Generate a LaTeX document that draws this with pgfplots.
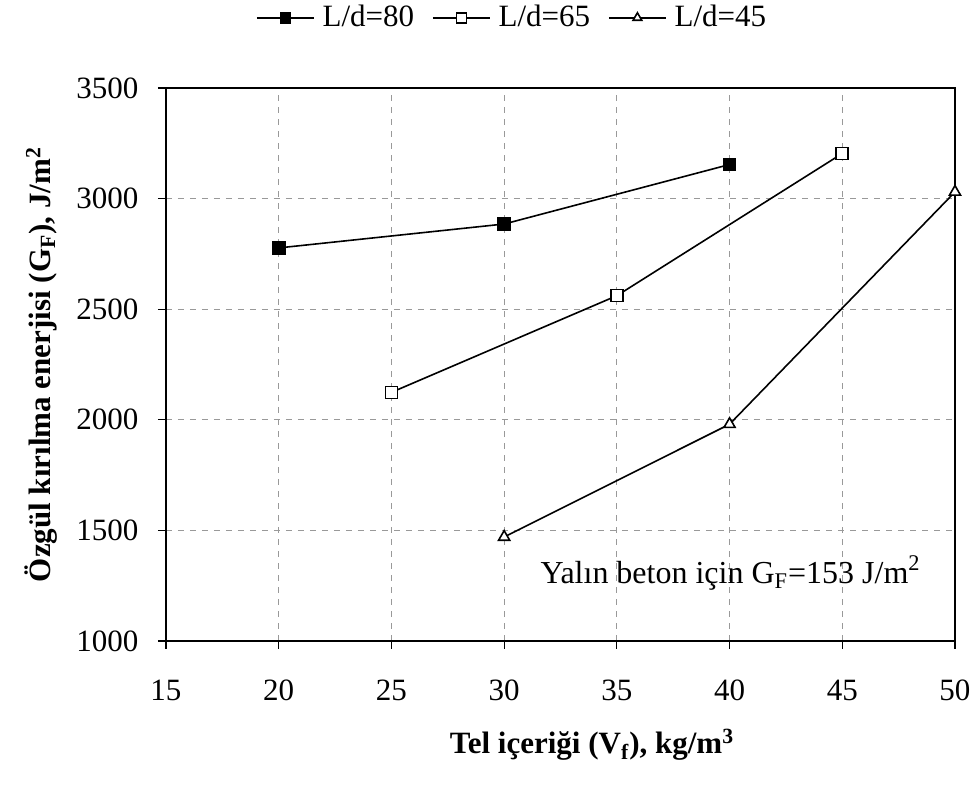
\documentclass[border=0pt]{standalone}
\usepackage{pgfplots}
\pgfplotsset{compat=1.18}
\usepackage{fontspec}
\setmainfont{Liberation Serif}
\begin{document}
\fontsize{15.5}{18}\selectfont
\begin{tikzpicture}
\useasboundingbox (-83pt,-72pt) rectangle (402.5pt,320.5pt);
\begin{axis}[
  scale only axis,
  width=394.5pt, height=276.5pt,
  xmin=15, xmax=50, ymin=1000, ymax=3500,
  xtick={15,20,...,50}, ytick={1000,1500,...,3500},
  clip mode=individual,
  /pgf/number format/assume math mode=true,
  /pgf/number format/1000 sep={},
  tick label style={font=\fontsize{15.5}{18}\selectfont},
  xticklabel style={yshift=-10pt},
  yticklabel style={xshift=-4.5pt},
  tick align=outside, tick pos=left,
  major tick length=4pt,
  axis line style={line width=0.8pt},
  every tick/.style={black, line width=0.6pt},
  grid=major,
  grid style={gray!80, dash pattern=on 3pt off 3pt, line width=0.6pt},
  xlabel={\textbf{Tel içeriği (V\textsubscript{f}), kg/m\textsuperscript{3}}},
  ylabel={\textbf{Özgül kırılma enerjisi (G\textsubscript{F}), J/m\textsuperscript{2}}},
  label style={font=\fontsize{15.5}{18}\selectfont},
  xlabel style={at={(axis description cs:0.54,0)}, anchor=center, yshift=-52pt},
  every axis y label/.append style={at={(axis description cs:-0.158,0.5)}, anchor=center},
  legend columns=3,
  legend style={draw=none, fill=none, at={(axis description cs:0.44,1.127)}, anchor=center,
    font=\fontsize{15.5}{18}\selectfont,
    /tikz/every odd column/.append style={column sep=2pt},
    /tikz/every even column/.append style={column sep=7pt}},
  legend image code/.code={\draw[mark repeat=2,mark phase=2, mark size=2.5pt] plot coordinates {(0cm,0cm) (0.5cm,0cm) (1cm,0cm)};},
  legend cell align=left,
]
\addplot[black, line width=0.8pt, mark=square*, mark size=3pt, mark options={fill=black, solid}]
  coordinates {(20,2777) (30,2885) (40,3154)};
\addlegendentry{L/d=80}
\addplot[black, line width=0.8pt, mark=square*, mark size=3pt, mark options={fill=white, solid}]
  coordinates {(25,2124) (35,2561) (45,3204)};
\addlegendentry{L/d=65}
\addplot[black, line width=0.8pt, mark=triangle*, mark size=3.2pt, mark options={fill=white, solid}]
  coordinates {(30,1470) (40,1980) (50,3030)};
\addlegendentry{L/d=45}
\node[anchor=west, inner sep=0pt, font=\fontsize{16}{18}\selectfont] at (axis cs:31.6,1307) {Yalın beton için G\textsubscript{F}=153 J/m\textsuperscript{2}};
\end{axis}
\end{tikzpicture}
\end{document}
